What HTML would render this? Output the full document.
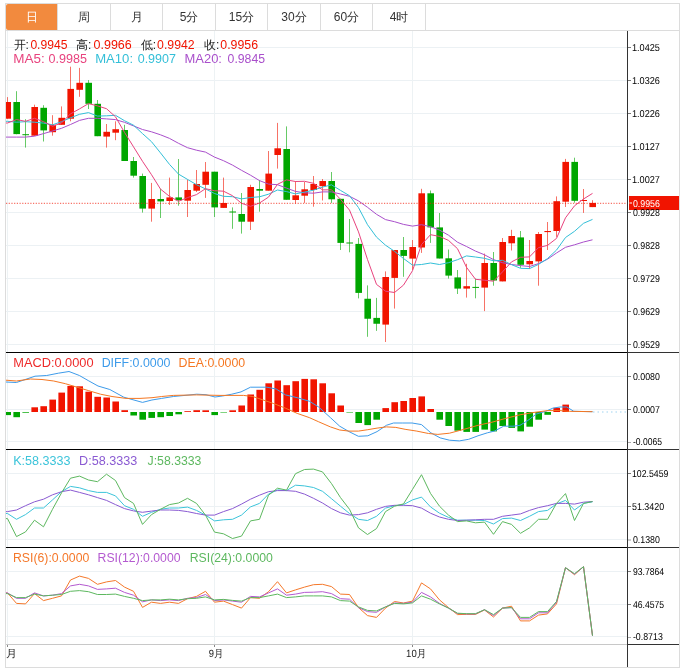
<!DOCTYPE html>
<html><head><meta charset="utf-8"><style>
html,body{margin:0;padding:0;background:#fff;width:685px;height:672px;overflow:hidden;font-family:"Liberation Sans",sans-serif;}
body{position:relative}
</style></head><body>
<svg width="685" height="672" viewBox="0 0 685 672" style="position:absolute;left:0;top:0;will-change:transform">
<defs><clipPath id="cl"><rect x="6" y="0" width="700" height="700"/></clipPath></defs>
<rect x="5.5" y="3.5" width="674" height="664" fill="#fff" stroke="#DCDCDC" stroke-width="1"/>
<path d="M8,4 H57 V30 H8 Q6,30 6,28 V6 Q6,4 8,4Z" fill="#F28A3E"/>
<line x1="57.5" y1="4" x2="57.5" y2="30" stroke="#DCDCDC"/>
<line x1="110.5" y1="4" x2="110.5" y2="30" stroke="#DCDCDC"/>
<line x1="162.5" y1="4" x2="162.5" y2="30" stroke="#DCDCDC"/>
<line x1="215.5" y1="4" x2="215.5" y2="30" stroke="#DCDCDC"/>
<line x1="267.5" y1="4" x2="267.5" y2="30" stroke="#DCDCDC"/>
<line x1="320.5" y1="4" x2="320.5" y2="30" stroke="#DCDCDC"/>
<line x1="372.5" y1="4" x2="372.5" y2="30" stroke="#DCDCDC"/>
<line x1="425.5" y1="4" x2="425.5" y2="30" stroke="#DCDCDC"/>
<line x1="6" y1="30.5" x2="679" y2="30.5" stroke="#DCDCDC"/>
<text x="32.0" y="21.4" font-size="12" text-anchor="middle" fill="#fff" font-family="Liberation Sans, sans-serif">日</text>
<text x="84.0" y="21.4" font-size="12" text-anchor="middle" fill="#333" font-family="Liberation Sans, sans-serif">周</text>
<text x="136.5" y="21.4" font-size="12" text-anchor="middle" fill="#333" font-family="Liberation Sans, sans-serif">月</text>
<text x="189.0" y="21.4" font-size="12" text-anchor="middle" fill="#333" font-family="Liberation Sans, sans-serif">5分</text>
<text x="241.5" y="21.4" font-size="12" text-anchor="middle" fill="#333" font-family="Liberation Sans, sans-serif">15分</text>
<text x="294.0" y="21.4" font-size="12" text-anchor="middle" fill="#333" font-family="Liberation Sans, sans-serif">30分</text>
<text x="346.5" y="21.4" font-size="12" text-anchor="middle" fill="#333" font-family="Liberation Sans, sans-serif">60分</text>
<text x="399.0" y="21.4" font-size="12" text-anchor="middle" fill="#333" font-family="Liberation Sans, sans-serif">4时</text>
<line x1="6" y1="47.5" x2="627" y2="47.5" stroke="#ECF1F4"/>
<line x1="6" y1="80.5" x2="627" y2="80.5" stroke="#ECF1F4"/>
<line x1="6" y1="113.5" x2="627" y2="113.5" stroke="#ECF1F4"/>
<line x1="6" y1="146.5" x2="627" y2="146.5" stroke="#ECF1F4"/>
<line x1="6" y1="179.5" x2="627" y2="179.5" stroke="#ECF1F4"/>
<line x1="6" y1="212.5" x2="627" y2="212.5" stroke="#ECF1F4"/>
<line x1="6" y1="245.5" x2="627" y2="245.5" stroke="#ECF1F4"/>
<line x1="6" y1="278.5" x2="627" y2="278.5" stroke="#ECF1F4"/>
<line x1="6" y1="311.5" x2="627" y2="311.5" stroke="#ECF1F4"/>
<line x1="6" y1="344.5" x2="627" y2="344.5" stroke="#ECF1F4"/>
<line x1="6" y1="376.5" x2="627" y2="376.5" stroke="#ECF1F4"/>
<line x1="6" y1="409.5" x2="627" y2="409.5" stroke="#ECF1F4"/>
<line x1="6" y1="441.5" x2="627" y2="441.5" stroke="#ECF1F4"/>
<line x1="6" y1="473.5" x2="627" y2="473.5" stroke="#ECF1F4"/>
<line x1="6" y1="506.5" x2="627" y2="506.5" stroke="#ECF1F4"/>
<line x1="6" y1="539.5" x2="627" y2="539.5" stroke="#ECF1F4"/>
<line x1="6" y1="571.5" x2="627" y2="571.5" stroke="#ECF1F4"/>
<line x1="6" y1="604.5" x2="627" y2="604.5" stroke="#ECF1F4"/>
<line x1="6" y1="636.5" x2="627" y2="636.5" stroke="#ECF1F4"/>
<line x1="7.5" y1="31" x2="7.5" y2="644" stroke="#EDF2F4"/>
<line x1="214.5" y1="31" x2="214.5" y2="644" stroke="#EDF2F4"/>
<line x1="412.5" y1="31" x2="412.5" y2="644" stroke="#EDF2F4"/>
<line x1="7.5" y1="97.1" x2="7.5" y2="118.7" stroke="#F11400" stroke-opacity="0.6"/>
<rect x="6" y="102.0" width="5" height="16.70" fill="#F11400"/>
<line x1="16.5" y1="91.2" x2="16.5" y2="134.3" stroke="#00A600" stroke-opacity="0.6"/>
<rect x="13.4" y="102.0" width="6.6" height="32.10" fill="#00A600"/>
<line x1="25.5" y1="119.2" x2="25.5" y2="147.6" stroke="#00A600" stroke-opacity="0.6"/>
<rect x="22.4" y="134.2" width="6.600000000000001" height="1.00" fill="#00A600"/>
<line x1="34.5" y1="104.7" x2="34.5" y2="135.7" stroke="#F11400" stroke-opacity="0.6"/>
<rect x="31.4" y="107.0" width="6.600000000000001" height="28.70" fill="#F11400"/>
<line x1="43.5" y1="105.2" x2="43.5" y2="141.5" stroke="#00A600" stroke-opacity="0.6"/>
<rect x="40.4" y="107.8" width="6.600000000000001" height="22.60" fill="#00A600"/>
<line x1="52.5" y1="115.2" x2="52.5" y2="135.7" stroke="#F11400" stroke-opacity="0.6"/>
<rect x="49.4" y="124.8" width="6.600000000000001" height="7.40" fill="#F11400"/>
<line x1="61.5" y1="106.4" x2="61.5" y2="124.8" stroke="#F11400" stroke-opacity="0.6"/>
<rect x="58.4" y="117.8" width="6.600000000000001" height="7.00" fill="#F11400"/>
<line x1="70.5" y1="66.7" x2="70.5" y2="121.3" stroke="#F11400" stroke-opacity="0.6"/>
<rect x="67.4" y="88.9" width="6.599999999999994" height="29.80" fill="#F11400"/>
<line x1="79.5" y1="67.9" x2="79.5" y2="96.8" stroke="#F11400" stroke-opacity="0.6"/>
<rect x="76.4" y="82.8" width="6.599999999999994" height="7.00" fill="#F11400"/>
<line x1="88.5" y1="80.1" x2="88.5" y2="109.0" stroke="#00A600" stroke-opacity="0.6"/>
<rect x="85.4" y="82.8" width="6.599999999999994" height="21.00" fill="#00A600"/>
<line x1="97.5" y1="100.0" x2="97.5" y2="136.2" stroke="#00A600" stroke-opacity="0.6"/>
<rect x="94.4" y="103.8" width="6.599999999999994" height="32.40" fill="#00A600"/>
<line x1="106.5" y1="124.0" x2="106.5" y2="147.6" stroke="#F11400" stroke-opacity="0.6"/>
<rect x="103.4" y="131.8" width="6.599999999999994" height="4.80" fill="#F11400"/>
<line x1="115.5" y1="121.3" x2="115.5" y2="140.2" stroke="#F11400" stroke-opacity="0.6"/>
<rect x="112.4" y="129.2" width="6.599999999999994" height="3.50" fill="#F11400"/>
<line x1="124.5" y1="124.8" x2="124.5" y2="161.0" stroke="#00A600" stroke-opacity="0.6"/>
<rect x="121.4" y="130.0" width="6.599999999999994" height="31.00" fill="#00A600"/>
<line x1="133.5" y1="157.0" x2="133.5" y2="177.6" stroke="#00A600" stroke-opacity="0.6"/>
<rect x="130.4" y="161.0" width="6.599999999999994" height="14.70" fill="#00A600"/>
<line x1="142.5" y1="173.6" x2="142.5" y2="212.6" stroke="#00A600" stroke-opacity="0.6"/>
<rect x="139.4" y="176.0" width="6.599999999999994" height="32.60" fill="#00A600"/>
<line x1="151.5" y1="182.9" x2="151.5" y2="221.7" stroke="#F11400" stroke-opacity="0.6"/>
<rect x="148.4" y="199.0" width="6.599999999999994" height="9.60" fill="#F11400"/>
<line x1="160.5" y1="189.0" x2="160.5" y2="218.0" stroke="#00A600" stroke-opacity="0.6"/>
<rect x="157.4" y="199.0" width="6.599999999999994" height="2.40" fill="#00A600"/>
<line x1="169.5" y1="177.6" x2="169.5" y2="205.0" stroke="#F11400" stroke-opacity="0.6"/>
<rect x="166.4" y="197.4" width="6.599999999999994" height="3.60" fill="#F11400"/>
<line x1="178.5" y1="159.0" x2="178.5" y2="205.7" stroke="#00A600" stroke-opacity="0.6"/>
<rect x="175.4" y="197.4" width="6.599999999999994" height="2.80" fill="#00A600"/>
<line x1="187.5" y1="179.5" x2="187.5" y2="217.0" stroke="#F11400" stroke-opacity="0.6"/>
<rect x="184.4" y="190.0" width="6.599999999999994" height="10.70" fill="#F11400"/>
<line x1="196.5" y1="170.0" x2="196.5" y2="192.0" stroke="#F11400" stroke-opacity="0.6"/>
<rect x="193.4" y="184.0" width="6.599999999999994" height="6.70" fill="#F11400"/>
<line x1="205.5" y1="162.0" x2="205.5" y2="197.9" stroke="#F11400" stroke-opacity="0.6"/>
<rect x="202.4" y="171.7" width="6.599999999999994" height="13.10" fill="#F11400"/>
<line x1="214.5" y1="171.7" x2="214.5" y2="217.0" stroke="#00A600" stroke-opacity="0.6"/>
<rect x="211.4" y="171.7" width="6.599999999999994" height="35.70" fill="#00A600"/>
<line x1="223.5" y1="177.6" x2="223.5" y2="207.9" stroke="#F11400" stroke-opacity="0.6"/>
<rect x="220.4" y="203.0" width="6.599999999999994" height="4.90" fill="#F11400"/>
<line x1="232.5" y1="207.4" x2="232.5" y2="228.8" stroke="#00A600" stroke-opacity="0.6"/>
<rect x="229.4" y="211.5" width="6.599999999999994" height="1.00" fill="#00A600"/>
<line x1="241.5" y1="193.0" x2="241.5" y2="233.6" stroke="#00A600" stroke-opacity="0.6"/>
<rect x="238.4" y="214.0" width="6.599999999999994" height="7.70" fill="#00A600"/>
<line x1="250.5" y1="184.8" x2="250.5" y2="230.0" stroke="#F11400" stroke-opacity="0.6"/>
<rect x="247.4" y="187.0" width="6.599999999999994" height="34.70" fill="#F11400"/>
<line x1="259.5" y1="180.0" x2="259.5" y2="211.7" stroke="#00A600" stroke-opacity="0.6"/>
<rect x="256.4" y="189.0" width="6.600000000000023" height="1.70" fill="#00A600"/>
<line x1="268.5" y1="151.0" x2="268.5" y2="190.7" stroke="#F11400" stroke-opacity="0.6"/>
<rect x="265.4" y="173.6" width="6.600000000000023" height="17.10" fill="#F11400"/>
<line x1="277.5" y1="122.9" x2="277.5" y2="168.6" stroke="#F11400" stroke-opacity="0.6"/>
<rect x="274.4" y="148.3" width="6.600000000000023" height="6.70" fill="#F11400"/>
<line x1="286.5" y1="126.4" x2="286.5" y2="199.8" stroke="#00A600" stroke-opacity="0.6"/>
<rect x="283.4" y="149.0" width="6.600000000000023" height="50.80" fill="#00A600"/>
<line x1="295.5" y1="181.0" x2="295.5" y2="203.6" stroke="#F11400" stroke-opacity="0.6"/>
<rect x="292.4" y="195.3" width="6.600000000000023" height="4.70" fill="#F11400"/>
<line x1="304.5" y1="182.0" x2="304.5" y2="202.9" stroke="#F11400" stroke-opacity="0.6"/>
<rect x="301.4" y="189.3" width="6.600000000000023" height="6.40" fill="#F11400"/>
<line x1="313.5" y1="176.0" x2="313.5" y2="206.7" stroke="#F11400" stroke-opacity="0.6"/>
<rect x="310.4" y="184.0" width="6.600000000000023" height="6.00" fill="#F11400"/>
<line x1="322.5" y1="179.0" x2="322.5" y2="200.5" stroke="#F11400" stroke-opacity="0.6"/>
<rect x="319.4" y="181.0" width="6.600000000000023" height="5.20" fill="#F11400"/>
<line x1="331.5" y1="172.0" x2="331.5" y2="202.9" stroke="#00A600" stroke-opacity="0.6"/>
<rect x="328.4" y="181.0" width="6.600000000000023" height="18.30" fill="#00A600"/>
<line x1="340.5" y1="198.8" x2="340.5" y2="250.0" stroke="#00A600" stroke-opacity="0.6"/>
<rect x="337.4" y="198.8" width="6.600000000000023" height="44.10" fill="#00A600"/>
<line x1="349.5" y1="219.0" x2="349.5" y2="252.3" stroke="#00A600" stroke-opacity="0.6"/>
<rect x="346.4" y="242.5" width="6.600000000000023" height="1.00" fill="#00A600"/>
<line x1="358.5" y1="238.0" x2="358.5" y2="298.4" stroke="#00A600" stroke-opacity="0.6"/>
<rect x="355.4" y="243.9" width="6.600000000000023" height="49.00" fill="#00A600"/>
<line x1="367.5" y1="285.4" x2="367.5" y2="336.8" stroke="#00A600" stroke-opacity="0.6"/>
<rect x="364.4" y="298.75" width="6.600000000000023" height="20.00" fill="#00A600"/>
<line x1="376.5" y1="297.9" x2="376.5" y2="330.9" stroke="#00A600" stroke-opacity="0.6"/>
<rect x="373.4" y="317.9" width="6.600000000000023" height="5.85" fill="#00A600"/>
<line x1="385.5" y1="271.4" x2="385.5" y2="342.0" stroke="#F11400" stroke-opacity="0.6"/>
<rect x="382.4" y="277.0" width="6.600000000000023" height="47.60" fill="#F11400"/>
<line x1="394.5" y1="250.0" x2="394.5" y2="308.6" stroke="#F11400" stroke-opacity="0.6"/>
<rect x="391.4" y="250.0" width="6.600000000000023" height="27.90" fill="#F11400"/>
<line x1="403.5" y1="237.0" x2="403.5" y2="276.8" stroke="#00A600" stroke-opacity="0.6"/>
<rect x="400.4" y="250.0" width="6.600000000000023" height="5.90" fill="#00A600"/>
<line x1="412.5" y1="240.0" x2="412.5" y2="270.0" stroke="#F11400" stroke-opacity="0.6"/>
<rect x="409.4" y="247.0" width="6.600000000000023" height="11.60" fill="#F11400"/>
<line x1="421.5" y1="188.8" x2="421.5" y2="252.9" stroke="#F11400" stroke-opacity="0.6"/>
<rect x="418.4" y="193.3" width="6.600000000000023" height="54.20" fill="#F11400"/>
<line x1="430.5" y1="190.5" x2="430.5" y2="242.9" stroke="#00A600" stroke-opacity="0.6"/>
<rect x="427.4" y="193.3" width="6.600000000000023" height="34.10" fill="#00A600"/>
<line x1="439.5" y1="213.0" x2="439.5" y2="258.5" stroke="#00A600" stroke-opacity="0.6"/>
<rect x="436.4" y="227.4" width="6.600000000000023" height="31.10" fill="#00A600"/>
<line x1="448.5" y1="249.5" x2="448.5" y2="278.6" stroke="#00A600" stroke-opacity="0.6"/>
<rect x="445.4" y="258.3" width="6.600000000000023" height="17.30" fill="#00A600"/>
<line x1="457.5" y1="270.0" x2="457.5" y2="294.0" stroke="#00A600" stroke-opacity="0.6"/>
<rect x="454.4" y="277.4" width="6.600000000000023" height="11.20" fill="#00A600"/>
<line x1="466.5" y1="263.8" x2="466.5" y2="297.6" stroke="#F11400" stroke-opacity="0.6"/>
<rect x="463.4" y="286.2" width="6.600000000000023" height="2.40" fill="#F11400"/>
<line x1="475.5" y1="278.6" x2="475.5" y2="298.3" stroke="#00A600" stroke-opacity="0.6"/>
<rect x="472.4" y="286.9" width="6.600000000000023" height="1.00" fill="#00A600"/>
<line x1="484.5" y1="253.6" x2="484.5" y2="311.1" stroke="#F11400" stroke-opacity="0.6"/>
<rect x="481.4" y="263.0" width="6.600000000000023" height="24.60" fill="#F11400"/>
<line x1="493.5" y1="252.0" x2="493.5" y2="285.7" stroke="#00A600" stroke-opacity="0.6"/>
<rect x="490.4" y="263.0" width="6.600000000000023" height="17.50" fill="#00A600"/>
<line x1="502.5" y1="238.0" x2="502.5" y2="281.4" stroke="#F11400" stroke-opacity="0.6"/>
<rect x="499.4" y="242.0" width="6.600000000000023" height="39.40" fill="#F11400"/>
<line x1="511.5" y1="229.8" x2="511.5" y2="250.5" stroke="#F11400" stroke-opacity="0.6"/>
<rect x="508.4" y="236.0" width="6.600000000000023" height="7.30" fill="#F11400"/>
<line x1="520.5" y1="231.0" x2="520.5" y2="267.9" stroke="#00A600" stroke-opacity="0.6"/>
<rect x="517.4" y="237.4" width="6.600000000000023" height="27.40" fill="#00A600"/>
<line x1="529.5" y1="240.0" x2="529.5" y2="269.0" stroke="#F11400" stroke-opacity="0.6"/>
<rect x="526.4" y="261.0" width="6.600000000000023" height="3.30" fill="#F11400"/>
<line x1="538.5" y1="232.0" x2="538.5" y2="285.7" stroke="#F11400" stroke-opacity="0.6"/>
<rect x="535.4" y="234.0" width="6.600000000000023" height="27.40" fill="#F11400"/>
<line x1="547.5" y1="222.0" x2="547.5" y2="250.0" stroke="#F11400" stroke-opacity="0.6"/>
<rect x="544.4" y="231.0" width="6.600000000000023" height="1.10" fill="#F11400"/>
<line x1="556.5" y1="196.4" x2="556.5" y2="236.9" stroke="#F11400" stroke-opacity="0.6"/>
<rect x="553.4" y="201.2" width="6.600000000000023" height="29.80" fill="#F11400"/>
<line x1="565.5" y1="158.9" x2="565.5" y2="207.0" stroke="#F11400" stroke-opacity="0.6"/>
<rect x="562.4" y="161.9" width="6.600000000000023" height="39.80" fill="#F11400"/>
<line x1="574.5" y1="157.7" x2="574.5" y2="202.7" stroke="#00A600" stroke-opacity="0.6"/>
<rect x="571.4" y="161.9" width="6.600000000000023" height="38.90" fill="#00A600"/>
<line x1="583.5" y1="189.0" x2="583.5" y2="212.9" stroke="#F11400" stroke-opacity="0.6"/>
<rect x="580.4" y="200.0" width="6.600000000000023" height="1.00" fill="#F11400"/>
<line x1="592.5" y1="200.2" x2="592.5" y2="207.1" stroke="#F11400" stroke-opacity="0.6"/>
<rect x="589.4" y="202.9" width="6.600000000000023" height="4.20" fill="#F11400"/>
<polyline points="6.0,137.1 7.5,137.1 16.5,137.1 25.5,137.1 34.5,136.2 43.5,133.6 52.5,131.0 61.5,128.3 70.5,124.5 79.5,120.4 88.5,118.3 97.5,118.3 106.5,118.9 115.5,119.6 124.5,122.3 133.5,125.9 142.5,129.5 151.5,131.8 160.5,134.8 169.5,138.4 178.5,143.3 187.5,147.7 196.5,150.2 205.5,152.1 214.5,157.1 223.5,160.7 232.5,165.1 241.5,170.3 250.5,175.2 259.5,180.6 268.5,184.1 277.5,184.7 286.5,188.1 295.5,191.4 304.5,192.8 313.5,193.2 322.5,191.9 331.5,191.9 340.5,194.0 349.5,196.3 358.5,200.9 367.5,207.3 376.5,214.3 385.5,219.6 394.5,221.7 403.5,224.4 412.5,226.1 421.5,224.7 430.5,226.7 439.5,230.1 448.5,235.2 457.5,242.2 466.5,246.5 475.5,251.1 484.5,254.8 493.5,259.6 502.5,262.7 511.5,264.5 520.5,265.6 529.5,266.5 538.5,263.6 547.5,259.2 556.5,253.0 565.5,247.3 574.5,244.8 583.5,242.0 592.5,239.8" fill="none" stroke="#A94FCB" stroke-width="1" stroke-linejoin="round"/>
<polyline points="6.0,121.3 7.5,121.3 16.5,122.2 25.5,121.7 34.5,122.2 43.5,123.1 52.5,124.8 61.5,121.7 70.5,117.8 79.5,114.3 88.5,112.6 97.5,116.1 106.5,115.8 115.5,115.3 124.5,120.7 133.5,125.2 142.5,133.6 151.5,141.7 160.5,152.9 169.5,164.4 178.5,174.1 187.5,179.4 196.5,184.7 205.5,188.9 214.5,193.5 223.5,196.3 232.5,196.7 241.5,198.9 250.5,197.5 259.5,196.8 268.5,194.2 277.5,190.0 286.5,191.6 295.5,193.9 304.5,192.1 313.5,190.2 322.5,187.1 331.5,184.8 340.5,190.4 349.5,195.7 358.5,207.6 367.5,224.7 376.5,237.1 385.5,245.2 394.5,251.3 403.5,258.5 412.5,265.1 421.5,264.5 430.5,263.0 439.5,264.5 448.5,262.7 457.5,259.7 466.5,255.9 475.5,257.0 484.5,258.3 493.5,260.8 502.5,260.3 511.5,264.6 520.5,268.3 529.5,268.6 538.5,264.4 547.5,258.6 556.5,250.1 565.5,237.5 574.5,231.3 583.5,223.3 592.5,219.4" fill="none" stroke="#33BFD8" stroke-width="1" stroke-linejoin="round"/>
<polyline points="6.0,123.0 7.5,123.0 16.5,119.6 25.5,121.3 34.5,118.3 43.5,121.7 52.5,126.2 61.5,123.0 70.5,113.8 79.5,108.9 88.5,103.6 97.5,105.9 106.5,108.7 115.5,116.8 124.5,132.4 133.5,146.8 142.5,161.3 151.5,174.7 160.5,189.1 169.5,196.4 178.5,201.3 187.5,197.6 196.5,194.6 205.5,188.7 214.5,190.7 223.5,191.2 232.5,195.7 241.5,203.3 250.5,206.3 259.5,203.0 268.5,197.1 277.5,184.3 286.5,179.9 295.5,181.5 304.5,181.3 313.5,183.3 322.5,189.9 331.5,189.8 340.5,199.3 349.5,210.1 358.5,231.9 367.5,259.5 376.5,284.4 385.5,291.2 394.5,292.5 403.5,285.1 412.5,270.7 421.5,244.6 430.5,234.7 439.5,236.4 448.5,240.4 457.5,248.7 466.5,267.3 475.5,279.3 484.5,280.2 493.5,281.2 502.5,271.9 511.5,261.9 520.5,257.3 529.5,256.9 538.5,247.6 547.5,245.4 556.5,238.4 565.5,217.8 574.5,205.8 583.5,199.0 592.5,193.4" fill="none" stroke="#E8437E" stroke-width="1" stroke-linejoin="round"/>
<line x1="6" y1="203.3" x2="627" y2="203.3" stroke="#F11400" stroke-opacity="0.75" stroke-dasharray="1.2 1.5"/>
<rect x="6" y="412" width="5" height="3.10" fill="#00A600"/>
<rect x="13.4" y="412" width="6.6" height="5.20" fill="#00A600"/>
<rect x="22.4" y="412" width="6.600000000000001" height="0.70" fill="#00A600"/>
<rect x="31.4" y="407.30" width="6.600000000000001" height="4.70" fill="#F11400"/>
<rect x="40.4" y="406.20" width="6.600000000000001" height="5.80" fill="#F11400"/>
<rect x="49.4" y="399.60" width="6.600000000000001" height="12.40" fill="#F11400"/>
<rect x="58.4" y="392.60" width="6.600000000000001" height="19.40" fill="#F11400"/>
<rect x="67.4" y="385.90" width="6.599999999999994" height="26.10" fill="#F11400"/>
<rect x="76.4" y="386.30" width="6.599999999999994" height="25.70" fill="#F11400"/>
<rect x="85.4" y="391.70" width="6.599999999999994" height="20.30" fill="#F11400"/>
<rect x="94.4" y="396.80" width="6.599999999999994" height="15.20" fill="#F11400"/>
<rect x="103.4" y="397.50" width="6.599999999999994" height="14.50" fill="#F11400"/>
<rect x="112.4" y="401.50" width="6.599999999999994" height="10.50" fill="#F11400"/>
<rect x="121.4" y="410.20" width="6.599999999999994" height="1.80" fill="#F11400"/>
<rect x="130.4" y="412" width="6.599999999999994" height="3.50" fill="#00A600"/>
<rect x="139.4" y="412" width="6.599999999999994" height="7.70" fill="#00A600"/>
<rect x="148.4" y="412" width="6.599999999999994" height="5.90" fill="#00A600"/>
<rect x="157.4" y="412" width="6.599999999999994" height="5.20" fill="#00A600"/>
<rect x="166.4" y="412" width="6.599999999999994" height="4.00" fill="#00A600"/>
<rect x="175.4" y="412" width="6.599999999999994" height="2.30" fill="#00A600"/>
<rect x="184.4" y="411.20" width="6.599999999999994" height="0.80" fill="#F11400"/>
<rect x="193.4" y="410.20" width="6.599999999999994" height="1.80" fill="#F11400"/>
<rect x="202.4" y="410.30" width="6.599999999999994" height="1.70" fill="#F11400"/>
<rect x="211.4" y="412" width="6.599999999999994" height="3.10" fill="#00A600"/>
<rect x="220.4" y="412" width="6.599999999999994" height="0.50" fill="#00A600"/>
<rect x="229.4" y="410.30" width="6.599999999999994" height="1.70" fill="#F11400"/>
<rect x="238.4" y="405.50" width="6.599999999999994" height="6.50" fill="#F11400"/>
<rect x="247.4" y="394.50" width="6.599999999999994" height="17.50" fill="#F11400"/>
<rect x="256.4" y="389.80" width="6.600000000000023" height="22.20" fill="#F11400"/>
<rect x="265.4" y="383.30" width="6.600000000000023" height="28.70" fill="#F11400"/>
<rect x="274.4" y="380.50" width="6.600000000000023" height="31.50" fill="#F11400"/>
<rect x="283.4" y="385.20" width="6.600000000000023" height="26.80" fill="#F11400"/>
<rect x="292.4" y="381.20" width="6.600000000000023" height="30.80" fill="#F11400"/>
<rect x="301.4" y="378.90" width="6.600000000000023" height="33.10" fill="#F11400"/>
<rect x="310.4" y="379.30" width="6.600000000000023" height="32.70" fill="#F11400"/>
<rect x="319.4" y="383.30" width="6.600000000000023" height="28.70" fill="#F11400"/>
<rect x="328.4" y="393.30" width="6.600000000000023" height="18.70" fill="#F11400"/>
<rect x="337.4" y="405.50" width="6.600000000000023" height="6.50" fill="#F11400"/>
<rect x="346.4" y="412" width="6.600000000000023" height="0.50" fill="#00A600"/>
<rect x="355.4" y="412" width="6.600000000000023" height="11.00" fill="#00A600"/>
<rect x="364.4" y="412" width="6.600000000000023" height="13.10" fill="#00A600"/>
<rect x="373.4" y="412" width="6.600000000000023" height="7.70" fill="#00A600"/>
<rect x="382.4" y="408.10" width="6.600000000000023" height="3.90" fill="#F11400"/>
<rect x="391.4" y="402.20" width="6.600000000000023" height="9.80" fill="#F11400"/>
<rect x="400.4" y="401.00" width="6.600000000000023" height="11.00" fill="#F11400"/>
<rect x="409.4" y="398.00" width="6.600000000000023" height="14.00" fill="#F11400"/>
<rect x="418.4" y="396.40" width="6.600000000000023" height="15.60" fill="#F11400"/>
<rect x="427.4" y="409.00" width="6.600000000000023" height="3.00" fill="#F11400"/>
<rect x="436.4" y="412" width="6.600000000000023" height="7.70" fill="#00A600"/>
<rect x="445.4" y="412" width="6.600000000000023" height="14.00" fill="#00A600"/>
<rect x="454.4" y="412" width="6.600000000000023" height="18.70" fill="#00A600"/>
<rect x="463.4" y="412" width="6.600000000000023" height="19.90" fill="#00A600"/>
<rect x="472.4" y="412" width="6.600000000000023" height="19.90" fill="#00A600"/>
<rect x="481.4" y="412" width="6.600000000000023" height="17.60" fill="#00A600"/>
<rect x="490.4" y="412" width="6.600000000000023" height="19.40" fill="#00A600"/>
<rect x="499.4" y="412" width="6.600000000000023" height="14.00" fill="#00A600"/>
<rect x="508.4" y="412" width="6.600000000000023" height="15.90" fill="#00A600"/>
<rect x="517.4" y="412" width="6.600000000000023" height="19.40" fill="#00A600"/>
<rect x="526.4" y="412" width="6.600000000000023" height="14.70" fill="#00A600"/>
<rect x="535.4" y="412" width="6.600000000000023" height="7.70" fill="#00A600"/>
<rect x="544.4" y="412" width="6.600000000000023" height="2.80" fill="#00A600"/>
<rect x="553.4" y="407.80" width="6.600000000000023" height="4.20" fill="#F11400"/>
<rect x="562.4" y="404.60" width="6.600000000000023" height="7.40" fill="#F11400"/>
<rect x="571.4" y="411.70" width="6.600000000000023" height="0.30" fill="#F11400"/>
<polyline points="6.0,382.0 16.4,382.5 35.0,376.2 46.7,375.5 58.4,373.2 69.0,371.5 79.4,375.5 88.8,380.9 98.0,386.0 109.8,389.5 123.8,397.2 142.5,402.4 151.9,400.0 161.7,398.4 173.4,396.5 185.0,395.4 196.7,394.2 206.0,394.7 215.0,397.0 222.4,396.0 231.8,394.2 241.0,391.9 250.5,387.2 266.8,387.2 276.2,389.0 285.5,394.9 297.2,397.7 309.3,401.2 318.7,407.0 330.4,417.6 339.7,426.2 349.0,431.6 358.4,436.3 367.8,435.8 377.1,431.6 386.4,425.3 393.5,423.0 402.8,423.0 412.1,423.0 421.5,424.6 430.8,432.8 440.2,437.9 449.5,440.2 459.3,440.9 468.7,439.3 478.0,435.8 487.4,432.8 494.4,431.1 503.7,426.2 513.0,426.2 520.0,425.3 527.0,421.1 536.4,414.0 545.8,411.3 552.8,408.2 559.8,407.0 566.8,407.0 573.8,411.3 592.5,411.7" fill="none" stroke="#3D9BEA" stroke-width="1" stroke-linejoin="round"/>
<polyline points="6.0,380.2 16.4,381.0 30.4,379.0 42.0,379.5 53.7,381.0 65.4,383.7 77.0,387.2 88.8,390.7 100.5,394.2 112.0,396.5 126.0,398.4 140.0,398.4 152.0,397.7 161.7,396.5 173.4,395.4 196.7,394.9 220.0,395.4 243.5,395.4 252.8,396.5 262.0,399.6 273.8,403.6 285.5,408.2 297.2,413.4 309.3,417.6 318.7,421.8 330.4,426.9 339.7,430.0 349.0,431.1 358.4,431.1 367.8,429.7 377.1,428.1 386.4,426.9 395.8,427.4 405.1,429.3 416.8,431.1 428.5,433.5 437.9,434.4 449.5,433.2 464.0,429.3 478.0,425.3 492.0,422.2 506.0,418.3 520.0,414.8 534.0,412.4 548.0,410.6 559.8,410.6 569.2,411.3 592.5,411.7" fill="none" stroke="#F57722" stroke-width="1" stroke-linejoin="round"/>
<line x1="593" y1="412" x2="627" y2="412" stroke="#9FD3F0" stroke-dasharray="1.5 3"/>
<polyline points="6.0,513.5 7.5,513.5 16.5,519.3 25.5,514.6 34.5,508.0 43.5,508.0 52.5,499.9 61.5,491.7 70.5,486.4 79.5,487.8 88.5,490.6 97.5,492.4 106.5,492.4 115.5,495.9 124.5,505.7 133.5,509.3 142.5,516.3 151.5,512.3 160.5,509.3 169.5,508.0 178.5,508.0 187.5,507.1 196.5,510.4 205.5,515.1 214.5,520.9 223.5,519.8 232.5,519.3 241.5,515.1 250.5,506.9 259.5,503.4 268.5,494.1 277.5,489.9 286.5,490.6 295.5,485.2 304.5,485.9 313.5,487.5 322.5,491.3 331.5,498.7 340.5,506.2 349.5,513.5 358.5,519.3 367.5,520.5 376.5,516.3 385.5,508.1 394.5,505.7 403.5,504.6 412.5,499.9 421.5,497.1 430.5,506.9 439.5,513.2 448.5,517.4 457.5,520.2 466.5,520.2 475.5,520.2 484.5,520.5 493.5,524.0 502.5,518.6 511.5,518.1 520.5,520.5 529.5,516.3 538.5,511.6 547.5,510.4 556.5,503.9 565.5,500.4 574.5,510.0 583.5,503.4 592.5,501.8" fill="none" stroke="#3CC4DA" stroke-width="1" stroke-linejoin="round"/>
<polyline points="6.0,511.6 7.5,511.6 16.5,510.0 25.5,505.7 34.5,501.8 43.5,499.2 52.5,494.8 61.5,491.7 70.5,490.1 79.5,492.4 88.5,494.8 97.5,497.6 106.5,500.4 115.5,504.6 124.5,508.6 133.5,510.9 142.5,512.3 151.5,511.1 160.5,510.0 169.5,510.0 178.5,510.4 187.5,511.6 196.5,513.5 205.5,515.1 214.5,515.1 223.5,511.6 232.5,508.6 241.5,504.1 250.5,499.2 259.5,495.2 268.5,491.7 277.5,490.6 286.5,490.6 295.5,491.3 304.5,494.1 313.5,498.3 322.5,503.0 331.5,508.6 340.5,512.8 349.5,515.1 358.5,514.6 367.5,512.8 376.5,509.3 385.5,506.4 394.5,505.3 403.5,505.3 412.5,505.7 421.5,508.1 430.5,513.2 439.5,517.0 448.5,519.3 457.5,520.5 466.5,520.2 475.5,519.8 484.5,519.3 493.5,519.3 502.5,516.3 511.5,515.1 520.5,513.9 529.5,510.4 538.5,507.6 547.5,505.7 556.5,503.4 565.5,503.4 574.5,504.1 583.5,502.2 592.5,501.5" fill="none" stroke="#8A5AD2" stroke-width="1" stroke-linejoin="round"/>
<polyline points="6.0,518.6 7.5,518.6 16.5,536.6 25.5,531.9 34.5,520.2 43.5,526.8 52.5,509.3 61.5,492.9 70.5,478.2 79.5,476.1 88.5,480.0 97.5,481.7 106.5,474.2 115.5,480.5 124.5,497.6 133.5,503.4 142.5,524.4 151.5,514.6 160.5,509.3 169.5,504.6 178.5,503.0 187.5,498.3 196.5,503.4 205.5,515.1 214.5,532.1 223.5,533.8 232.5,538.5 241.5,536.1 250.5,520.9 259.5,519.3 268.5,495.2 277.5,488.2 286.5,490.1 295.5,473.7 304.5,469.5 313.5,469.1 322.5,471.9 331.5,483.6 340.5,497.6 349.5,509.3 358.5,527.9 367.5,534.5 376.5,528.6 385.5,511.6 394.5,506.2 403.5,503.9 412.5,489.4 421.5,474.7 430.5,493.4 439.5,506.2 448.5,515.1 457.5,521.6 466.5,520.9 475.5,522.8 484.5,522.1 493.5,534.3 502.5,521.6 511.5,524.4 520.5,533.3 529.5,527.9 538.5,519.3 547.5,519.3 556.5,503.4 565.5,493.6 574.5,520.5 583.5,503.4 592.5,501.5" fill="none" stroke="#5DB85F" stroke-width="1" stroke-linejoin="round"/>
<polyline points="6.0,592.9 7.5,592.9 16.5,603.4 25.5,603.9 34.5,593.6 43.5,600.6 52.5,598.3 61.5,595.9 70.5,580.0 79.5,576.1 88.5,578.4 97.5,584.3 106.5,581.9 115.5,580.5 124.5,587.1 133.5,591.3 142.5,607.4 151.5,602.2 160.5,603.4 169.5,602.2 178.5,603.4 187.5,598.7 196.5,596.4 205.5,591.3 214.5,602.2 223.5,601.1 232.5,604.6 241.5,608.1 250.5,597.6 259.5,598.3 268.5,591.7 277.5,581.7 286.5,592.9 295.5,589.9 304.5,587.1 313.5,584.7 322.5,584.3 331.5,586.6 340.5,594.1 349.5,594.5 358.5,607.6 367.5,615.6 376.5,617.4 385.5,608.1 394.5,601.5 403.5,603.0 412.5,601.1 421.5,582.9 430.5,588.9 439.5,599.9 448.5,607.6 457.5,614.6 466.5,614.4 475.5,614.4 484.5,610.0 493.5,617.0 502.5,608.1 511.5,606.2 520.5,620.9 529.5,620.9 538.5,615.1 547.5,613.9 556.5,603.9 565.5,567.7 574.5,574.7 583.5,566.7 592.5,635.7" fill="none" stroke="#F5782A" stroke-width="1" stroke-linejoin="round"/>
<polyline points="6.0,592.9 7.5,592.9 16.5,598.3 25.5,598.3 34.5,592.9 43.5,595.9 52.5,595.2 61.5,593.6 70.5,585.9 79.5,584.3 88.5,585.9 97.5,589.4 106.5,588.9 115.5,588.2 124.5,592.4 133.5,595.2 142.5,601.8 151.5,599.9 160.5,600.6 169.5,599.9 178.5,600.6 187.5,598.3 196.5,597.6 205.5,594.5 214.5,600.6 223.5,599.9 232.5,601.1 241.5,602.2 250.5,596.4 259.5,596.9 268.5,592.9 277.5,588.9 286.5,595.2 295.5,594.1 304.5,592.4 313.5,592.2 322.5,591.7 331.5,593.6 340.5,598.7 349.5,599.2 358.5,607.6 367.5,611.6 376.5,612.3 385.5,606.9 394.5,603.0 403.5,603.4 412.5,602.2 421.5,592.4 430.5,596.9 439.5,603.4 448.5,608.1 457.5,613.5 466.5,613.9 475.5,613.9 484.5,609.7 493.5,615.6 502.5,608.1 511.5,607.6 520.5,618.8 529.5,618.8 538.5,612.8 547.5,612.8 556.5,602.2 565.5,567.7 574.5,574.2 583.5,566.7 592.5,635.7" fill="none" stroke="#B45AD0" stroke-width="1" stroke-linejoin="round"/>
<polyline points="6.0,593.6 7.5,593.6 16.5,597.6 25.5,597.6 34.5,594.1 43.5,595.9 52.5,595.2 61.5,594.5 70.5,591.3 79.5,590.6 88.5,591.7 97.5,594.5 106.5,594.5 115.5,594.1 124.5,596.4 133.5,598.3 142.5,600.6 151.5,599.9 160.5,599.9 169.5,599.2 178.5,599.9 187.5,598.7 196.5,598.3 205.5,596.9 214.5,599.9 223.5,599.4 232.5,600.4 241.5,601.1 250.5,597.6 259.5,597.6 268.5,595.9 277.5,594.1 286.5,597.6 295.5,596.9 304.5,595.9 313.5,595.9 322.5,595.9 331.5,596.9 340.5,600.6 349.5,601.1 358.5,606.9 367.5,610.4 376.5,610.9 385.5,606.9 394.5,603.4 403.5,603.9 412.5,602.9 421.5,595.9 430.5,599.2 439.5,603.9 448.5,608.1 457.5,613.2 466.5,613.7 475.5,613.7 484.5,609.7 493.5,614.6 502.5,608.1 511.5,607.6 520.5,617.4 529.5,617.4 538.5,611.6 547.5,611.6 556.5,601.5 565.5,567.7 574.5,573.7 583.5,566.7 592.5,635.7" fill="none" stroke="#5DB85F" stroke-width="1" stroke-linejoin="round"/>
<line x1="6" y1="352.5" x2="627" y2="352.5" stroke="#000"/>
<line x1="627" y1="352.5" x2="679" y2="352.5" stroke="#333"/>
<line x1="6" y1="449.5" x2="627" y2="449.5" stroke="#000"/>
<line x1="627" y1="449.5" x2="679" y2="449.5" stroke="#333"/>
<line x1="6" y1="547.5" x2="627" y2="547.5" stroke="#000"/>
<line x1="627" y1="547.5" x2="679" y2="547.5" stroke="#333"/>
<line x1="6" y1="644.5" x2="627" y2="644.5" stroke="#C8C8C8"/>
<line x1="627" y1="644.5" x2="679" y2="644.5" stroke="#333"/>
<line x1="627.5" y1="31" x2="627.5" y2="667" stroke="#333"/>
<line x1="7.5" y1="645" x2="7.5" y2="647" stroke="#888"/>
<line x1="214.5" y1="645" x2="214.5" y2="647" stroke="#888"/>
<line x1="412.5" y1="645" x2="412.5" y2="647" stroke="#888"/>
<line x1="628" y1="47.5" x2="631" y2="47.5" stroke="#777"/>
<line x1="628" y1="80.5" x2="631" y2="80.5" stroke="#777"/>
<line x1="628" y1="113.5" x2="631" y2="113.5" stroke="#777"/>
<line x1="628" y1="146.5" x2="631" y2="146.5" stroke="#777"/>
<line x1="628" y1="179.5" x2="631" y2="179.5" stroke="#777"/>
<line x1="628" y1="212.5" x2="631" y2="212.5" stroke="#777"/>
<line x1="628" y1="245.5" x2="631" y2="245.5" stroke="#777"/>
<line x1="628" y1="278.5" x2="631" y2="278.5" stroke="#777"/>
<line x1="628" y1="311.5" x2="631" y2="311.5" stroke="#777"/>
<line x1="628" y1="344.5" x2="631" y2="344.5" stroke="#777"/>
<line x1="628" y1="376.5" x2="631" y2="376.5" stroke="#777"/>
<line x1="628" y1="409.5" x2="631" y2="409.5" stroke="#777"/>
<line x1="628" y1="442.5" x2="631" y2="442.5" stroke="#AAA"/>
<line x1="628" y1="473.5" x2="631" y2="473.5" stroke="#777"/>
<line x1="628" y1="506.5" x2="631" y2="506.5" stroke="#777"/>
<line x1="628" y1="540.0" x2="631" y2="540.0" stroke="#999"/>
<line x1="628" y1="571.5" x2="631" y2="571.5" stroke="#777"/>
<line x1="628" y1="604.5" x2="631" y2="604.5" stroke="#777"/>
<line x1="628" y1="637.5" x2="631" y2="637.5" stroke="#AAA"/>
<rect x="629" y="196" width="50" height="14" fill="#F11400"/>
<line x1="629.5" y1="203" x2="632" y2="203" stroke="#fff"/>
<text x="13.60" y="49.3" font-size="12" fill="#222" font-family="Liberation Sans, sans-serif">开:</text>
<text clip-path="url(#cl)" x="30.40" y="49.3" font-size="12" fill="#F11400" textLength="37.01" lengthAdjust="spacingAndGlyphs" font-family="Liberation Sans, sans-serif">0.9945</text>
<text x="75.90" y="49.3" font-size="12" fill="#222" font-family="Liberation Sans, sans-serif">高:</text>
<text clip-path="url(#cl)" x="93.50" y="49.3" font-size="12" fill="#F11400" textLength="38.23" lengthAdjust="spacingAndGlyphs" font-family="Liberation Sans, sans-serif">0.9966</text>
<text x="140.70" y="49.3" font-size="12" fill="#222" font-family="Liberation Sans, sans-serif">低:</text>
<text clip-path="url(#cl)" x="157.10" y="49.3" font-size="12" fill="#F11400" textLength="37.52" lengthAdjust="spacingAndGlyphs" font-family="Liberation Sans, sans-serif">0.9942</text>
<text x="204.00" y="49.3" font-size="12" fill="#222" font-family="Liberation Sans, sans-serif">收:</text>
<text clip-path="url(#cl)" x="220.30" y="49.3" font-size="12" fill="#F11400" textLength="37.72" lengthAdjust="spacingAndGlyphs" font-family="Liberation Sans, sans-serif">0.9956</text>
<text clip-path="url(#cl)" x="13.18" y="62.8" font-size="12" fill="#E8437E" textLength="31.46" lengthAdjust="spacingAndGlyphs" font-family="Liberation Sans, sans-serif">MA5:</text>
<text clip-path="url(#cl)" x="48.60" y="62.8" font-size="12" fill="#E8437E" textLength="38.44" lengthAdjust="spacingAndGlyphs" font-family="Liberation Sans, sans-serif">0.9985</text>
<text clip-path="url(#cl)" x="95.21" y="62.8" font-size="12" fill="#33BFD8" textLength="37.84" lengthAdjust="spacingAndGlyphs" font-family="Liberation Sans, sans-serif">MA10:</text>
<text clip-path="url(#cl)" x="137.70" y="62.8" font-size="12" fill="#33BFD8" textLength="38.23" lengthAdjust="spacingAndGlyphs" font-family="Liberation Sans, sans-serif">0.9907</text>
<text clip-path="url(#cl)" x="184.52" y="62.8" font-size="12" fill="#A94FCB" textLength="37.42" lengthAdjust="spacingAndGlyphs" font-family="Liberation Sans, sans-serif">MA20:</text>
<text clip-path="url(#cl)" x="227.60" y="62.8" font-size="12" fill="#A94FCB" textLength="37.42" lengthAdjust="spacingAndGlyphs" font-family="Liberation Sans, sans-serif">0.9845</text>
<text clip-path="url(#cl)" x="13.23" y="366.9" font-size="12" fill="#EE2A2A" textLength="80.37" lengthAdjust="spacingAndGlyphs" font-family="Liberation Sans, sans-serif">MACD:0.0000</text>
<text clip-path="url(#cl)" x="101.67" y="366.9" font-size="12" fill="#3D9BEA" textLength="68.86" lengthAdjust="spacingAndGlyphs" font-family="Liberation Sans, sans-serif">DIFF:0.0000</text>
<text clip-path="url(#cl)" x="178.57" y="366.9" font-size="12" fill="#F57722" textLength="66.67" lengthAdjust="spacingAndGlyphs" font-family="Liberation Sans, sans-serif">DEA:0.0000</text>
<text clip-path="url(#cl)" x="13.15" y="465" font-size="12" fill="#3CC4DA" textLength="57.30" lengthAdjust="spacingAndGlyphs" font-family="Liberation Sans, sans-serif">K:58.3333</text>
<text clip-path="url(#cl)" x="79.05" y="465" font-size="12" fill="#8A5AD2" textLength="58.26" lengthAdjust="spacingAndGlyphs" font-family="Liberation Sans, sans-serif">D:58.3333</text>
<text clip-path="url(#cl)" x="147.60" y="465" font-size="12" fill="#5DB85F" textLength="53.83" lengthAdjust="spacingAndGlyphs" font-family="Liberation Sans, sans-serif">J:58.3333</text>
<text clip-path="url(#cl)" x="12.98" y="561.7" font-size="12" fill="#F5782A" textLength="76.36" lengthAdjust="spacingAndGlyphs" font-family="Liberation Sans, sans-serif">RSI(6):0.0000</text>
<text clip-path="url(#cl)" x="97.58" y="561.7" font-size="12" fill="#B45AD0" textLength="82.92" lengthAdjust="spacingAndGlyphs" font-family="Liberation Sans, sans-serif">RSI(12):0.0000</text>
<text clip-path="url(#cl)" x="189.68" y="561.7" font-size="12" fill="#5DB85F" textLength="83.22" lengthAdjust="spacingAndGlyphs" font-family="Liberation Sans, sans-serif">RSI(24):0.0000</text>
<text clip-path="url(#cl)" x="631.99" y="51.3" font-size="10" text-rendering="geometricPrecision" fill="#000" textLength="27.96" lengthAdjust="spacingAndGlyphs" font-family="Liberation Sans, sans-serif">1.0425</text>
<text clip-path="url(#cl)" x="631.99" y="84.3" font-size="10" text-rendering="geometricPrecision" fill="#000" textLength="27.96" lengthAdjust="spacingAndGlyphs" font-family="Liberation Sans, sans-serif">1.0326</text>
<text clip-path="url(#cl)" x="631.99" y="117.3" font-size="10" text-rendering="geometricPrecision" fill="#000" textLength="27.96" lengthAdjust="spacingAndGlyphs" font-family="Liberation Sans, sans-serif">1.0226</text>
<text clip-path="url(#cl)" x="631.99" y="150.3" font-size="10" text-rendering="geometricPrecision" fill="#000" textLength="27.96" lengthAdjust="spacingAndGlyphs" font-family="Liberation Sans, sans-serif">1.0127</text>
<text clip-path="url(#cl)" x="631.99" y="183.3" font-size="10" text-rendering="geometricPrecision" fill="#000" textLength="27.96" lengthAdjust="spacingAndGlyphs" font-family="Liberation Sans, sans-serif">1.0027</text>
<text clip-path="url(#cl)" x="632.90" y="216.3" font-size="10" text-rendering="geometricPrecision" fill="#000" textLength="27.02" lengthAdjust="spacingAndGlyphs" font-family="Liberation Sans, sans-serif">0.9928</text>
<text clip-path="url(#cl)" x="632.90" y="249.3" font-size="10" text-rendering="geometricPrecision" fill="#000" textLength="27.02" lengthAdjust="spacingAndGlyphs" font-family="Liberation Sans, sans-serif">0.9828</text>
<text clip-path="url(#cl)" x="632.90" y="282.3" font-size="10" text-rendering="geometricPrecision" fill="#000" textLength="27.02" lengthAdjust="spacingAndGlyphs" font-family="Liberation Sans, sans-serif">0.9729</text>
<text clip-path="url(#cl)" x="632.90" y="315.3" font-size="10" text-rendering="geometricPrecision" fill="#000" textLength="27.02" lengthAdjust="spacingAndGlyphs" font-family="Liberation Sans, sans-serif">0.9629</text>
<text clip-path="url(#cl)" x="632.90" y="348.3" font-size="10" text-rendering="geometricPrecision" fill="#000" textLength="27.02" lengthAdjust="spacingAndGlyphs" font-family="Liberation Sans, sans-serif">0.9529</text>
<text clip-path="url(#cl)" x="632.90" y="380.3" font-size="10" text-rendering="geometricPrecision" fill="#000" textLength="27.02" lengthAdjust="spacingAndGlyphs" font-family="Liberation Sans, sans-serif">0.0080</text>
<text clip-path="url(#cl)" x="632.90" y="413.3" font-size="10" text-rendering="geometricPrecision" fill="#000" textLength="27.02" lengthAdjust="spacingAndGlyphs" font-family="Liberation Sans, sans-serif">0.0007</text>
<text clip-path="url(#cl)" x="632.90" y="445.3" font-size="10" text-rendering="geometricPrecision" fill="#000" textLength="29.03" lengthAdjust="spacingAndGlyphs" font-family="Liberation Sans, sans-serif">-0.0065</text>
<text clip-path="url(#cl)" x="632.03" y="477.3" font-size="10" text-rendering="geometricPrecision" fill="#000" textLength="36.43" lengthAdjust="spacingAndGlyphs" font-family="Liberation Sans, sans-serif">102.5459</text>
<text clip-path="url(#cl)" x="632.01" y="510.3" font-size="10" text-rendering="geometricPrecision" fill="#000" textLength="32.18" lengthAdjust="spacingAndGlyphs" font-family="Liberation Sans, sans-serif">51.3420</text>
<text clip-path="url(#cl)" x="632.90" y="543.3" font-size="10" text-rendering="geometricPrecision" fill="#000" textLength="27.02" lengthAdjust="spacingAndGlyphs" font-family="Liberation Sans, sans-serif">0.1380</text>
<text clip-path="url(#cl)" x="632.90" y="575.3" font-size="10" text-rendering="geometricPrecision" fill="#000" textLength="31.29" lengthAdjust="spacingAndGlyphs" font-family="Liberation Sans, sans-serif">93.7864</text>
<text clip-path="url(#cl)" x="632.90" y="608.3" font-size="10" text-rendering="geometricPrecision" fill="#000" textLength="31.29" lengthAdjust="spacingAndGlyphs" font-family="Liberation Sans, sans-serif">46.4575</text>
<text clip-path="url(#cl)" x="632.90" y="640.3" font-size="10" text-rendering="geometricPrecision" fill="#000" textLength="29.91" lengthAdjust="spacingAndGlyphs" font-family="Liberation Sans, sans-serif">-0.8713</text>
<text clip-path="url(#cl)" x="632.90" y="206.9" font-size="10" text-rendering="geometricPrecision" fill="#fff" textLength="27.02" lengthAdjust="spacingAndGlyphs" font-family="Liberation Sans, sans-serif">0.9956</text>
<text clip-path="url(#cl)" x="6.06" y="656.8" font-size="10.5" text-rendering="geometricPrecision" fill="#222" textLength="10.95" lengthAdjust="spacingAndGlyphs" font-family="Liberation Sans, sans-serif">月</text>
<text clip-path="url(#cl)" x="208.80" y="656.8" font-size="10.5" text-rendering="geometricPrecision" fill="#222" textLength="14.59" lengthAdjust="spacingAndGlyphs" font-family="Liberation Sans, sans-serif">9月</text>
<text clip-path="url(#cl)" x="406.09" y="656.8" font-size="10.5" text-rendering="geometricPrecision" fill="#222" textLength="20.20" lengthAdjust="spacingAndGlyphs" font-family="Liberation Sans, sans-serif">10月</text>
</svg>
</body></html>
